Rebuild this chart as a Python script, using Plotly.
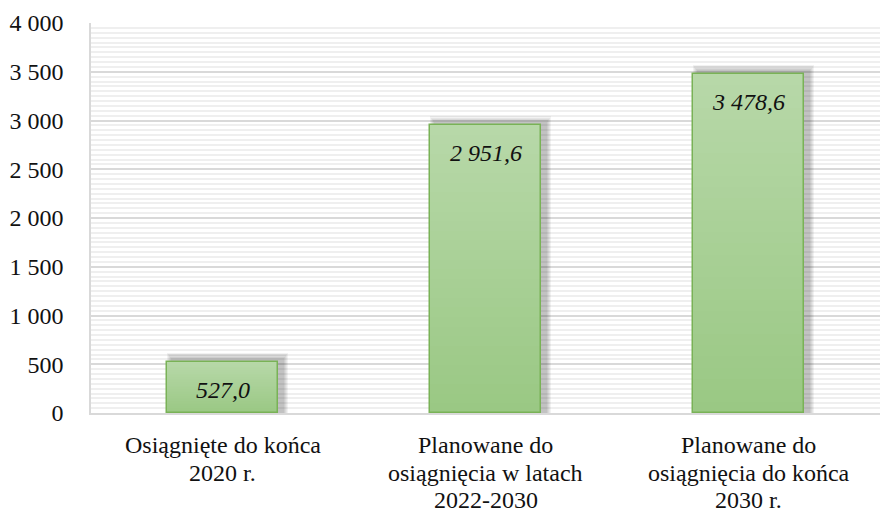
import plotly.graph_objects as go

# Data
categories = ["Osiągnięte do końca<br>2020 r.",
              "Planowane do<br>osiągnięcia w latach<br>2022-2030",
              "Planowane do<br>osiągnięcia do końca<br>2030 r."]
values = [527.0, 2951.6, 3478.6]
y_tickvals = [0, 500, 1000, 1500, 2000, 2500, 3000, 3500, 4000]

FONT = "Liberation Serif"
FS = 24
BAR_W = 0.42
Y_MAX = 4000
PLOT_H = 390          # plot-area height in px
CAT_PX = 263.0        # px per category
px_y = Y_MAX / PLOT_H
px_x = 1.0 / CAT_PX

x_idx = list(range(len(categories)))


def fmt(v):
    s = f"{v:,.1f}"
    return s.replace(",", " ").replace(".", ",")


def lerp(c1, c2, t):
    return "rgb(%d,%d,%d)" % tuple(round(a + (b - a) * t) for a, b in zip(c1, c2))


fig = go.Figure()

# soft drop shadow: several translucent layers, shifted up/right
for grow in [10, 8, 6, 4, 2]:
    fig.add_trace(go.Bar(
        x=x_idx, y=[v + (2 + grow * 0.7) * px_y for v in values],
        width=BAR_W + grow * px_x,
        offset=-BAR_W / 2 + (5 - grow / 2) * px_x,
        marker=dict(color="rgba(0,0,0,0.05)", line=dict(width=0)),
        hoverinfo="skip", showlegend=False))

# vertical gradient fill: light at top, darker toward the base
top_c = (183, 216, 168)
bot_c = (154, 200, 132)
N = 30
for k in range(N):
    frac = 1 - k / N
    fig.add_trace(go.Bar(
        x=x_idx, y=[v * frac for v in values],
        width=BAR_W,
        marker=dict(color=lerp(top_c, bot_c, k / (N - 1)), line=dict(width=0)),
        hoverinfo="skip", showlegend=False))

# outline
fig.add_trace(go.Bar(
    x=x_idx, y=values, width=BAR_W,
    marker=dict(color="rgba(0,0,0,0)", line=dict(color="#79b256", width=1.5)),
    showlegend=False))

# value labels inside bar tops
for i, v in enumerate(values):
    fig.add_annotation(x=i, y=v, xref="x", yref="y", text="<i>" + fmt(v) + "</i>",
                       showarrow=False, yanchor="middle", yshift=-28,
                       font=dict(family=FONT, size=FS, color="#111111"))

# category labels, one annotation per line for tighter leading
for i, c in enumerate(categories):
    for j, line in enumerate(c.split("<br>")):
        fig.add_annotation(x=i, y=0, xref="x", yref="paper", text=line,
                           showarrow=False, yanchor="middle",
                           yshift=-32 - j * 27.5,
                           font=dict(family=FONT, size=FS, color="#111111"))

fig.update_layout(
    width=880, height=512,
    margin=dict(l=91, r=0, t=23, b=99),
    paper_bgcolor="white", plot_bgcolor="white",
    barmode="overlay", bargap=0,
    separators=", ",
    font=dict(family=FONT, size=FS, color="#111111"),
    xaxis=dict(range=[-0.5, 2.5], showticklabels=False, showgrid=False,
               zeroline=False, showline=True, linecolor="#d9d9d9", linewidth=1.5,
               fixedrange=True),
    yaxis=dict(range=[0, Y_MAX], tickvals=y_tickvals, tickformat=",d",
               showgrid=True, gridcolor="#d9d9d9", gridwidth=1.5,
               minor=dict(dtick=50, showgrid=True, gridcolor="#efefef", gridwidth=2),
               zeroline=False, showline=True, linecolor="#d9d9d9", linewidth=1.5,
               ticks="", ticklabelstandoff=21,
               tickfont=dict(family=FONT, size=FS, color="#111111"),
               fixedrange=True),
)

fig.write_html("out.html")
